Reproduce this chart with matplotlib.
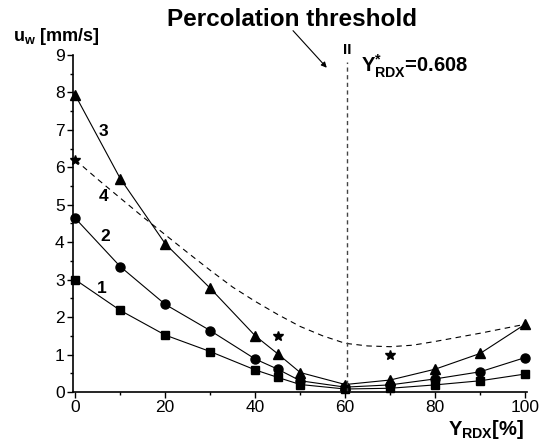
import matplotlib
matplotlib.use("Agg")
import matplotlib.pyplot as plt
from matplotlib.ticker import MultipleLocator

plt.rcParams['font.family'] = ['Liberation Sans', 'DejaVu Sans']
plt.rcParams['mathtext.fontset'] = 'custom'
plt.rcParams['mathtext.rm'] = 'Liberation Sans'
plt.rcParams['mathtext.bf'] = 'Liberation Sans:bold'
plt.rcParams['mathtext.it'] = 'Liberation Sans:italic'

# data
y_rdx = [0, 10, 20, 30, 40, 45, 50, 60, 70, 80, 90, 100]
u_1 = [3.0, 2.18, 1.52, 1.08, 0.59, 0.39, 0.2, 0.08, 0.1, 0.19, 0.3, 0.48]
u_2 = [4.64, 3.35, 2.34, 1.64, 0.88, 0.61, 0.3, 0.13, 0.19, 0.35, 0.54, 0.92]
u_3 = [7.93, 5.7, 3.96, 2.77, 1.5, 1.02, 0.52, 0.2, 0.32, 0.61, 1.03, 1.81]
star_x = [0, 45, 70]
star_u = [6.2, 1.5, 1.0]
fit_x = [0, 5, 10, 15, 20, 25, 30, 35, 40, 45, 50, 55, 60, 65, 70, 75, 80, 85, 90, 95, 100]
fit_u = [6.2, 5.68, 5.18, 4.68, 4.2, 3.72, 3.25, 2.8, 2.42, 2.07, 1.75, 1.5, 1.3, 1.23,
         1.21, 1.25, 1.35, 1.46, 1.57, 1.69, 1.81]
y_crit = 60.5

fig = plt.figure(figsize=(5.48, 4.48), dpi=100)
ax = fig.add_axes([73/548, 1-392/448, 454/548, 337/448])

ax.plot(y_rdx, u_1, '-', color='black', lw=0.8, marker='s', ms=5.5, clip_on=False)
ax.plot(y_rdx, u_2, '-', color='black', lw=0.8, marker='o', ms=6.5, clip_on=False)
ax.plot(y_rdx, u_3, '-', color='black', lw=0.8, marker='^', ms=7.5, clip_on=False)
ax.plot(fit_x, fit_u, color='black', lw=0.8, ls=(0, (5, 4)), clip_on=False)
ax.plot(star_x, star_u, ls='none', color='black', marker='*', ms=7, clip_on=False)

ax.plot([y_crit, y_crit], [0, 8.8], color='#444444', lw=1, ls=(0, (3, 2.5)), clip_on=False)
ax.text(y_crit, 8.95, 'II', fontsize=11, fontweight='bold', ha='center', va='bottom')

ax.set_xlim(-0.5, 100.4)
ax.set_ylim(0, 9)
ax.xaxis.set_major_locator(MultipleLocator(20))
ax.xaxis.set_minor_locator(MultipleLocator(10))
ax.yaxis.set_major_locator(MultipleLocator(1))
ax.yaxis.set_minor_locator(MultipleLocator(0.5))
ax.tick_params(which='major', direction='out', length=4, width=1, labelsize=12.5, pad=2)
ax.tick_params(which='minor', direction='out', length=2.5, width=1)
for s in ['top', 'right']:
    ax.spines[s].set_visible(False)
for s in ['left', 'bottom']:
    ax.spines[s].set_linewidth(1.2)

# curve numbers
for x, y, t in [(6.3, 6.96, '3'), (6.3, 5.22, '4'), (6.7, 4.15, '2'), (5.9, 2.77, '1')]:
    ax.text(x, y, t, fontsize=12.5, fontweight='bold', ha='center', va='center')

ax.annotate('', xy=(55.9, 8.66), xytext=(48.4, 9.65), xycoords='data',
            arrowprops=dict(arrowstyle='-|>', color='black', lw=0.8,
                            mutation_scale=8, shrinkA=0, shrinkB=0),
            annotation_clip=False)

fig.text(292.5/548, 1-26/448, 'Percolation threshold', fontsize=17.5,
         fontweight='bold', ha='center', va='baseline')
fig.text(13/548, 1-41/448, r'$\mathbf{u_{w}}$' + ' [mm/s]', fontsize=13,
         fontweight='bold', ha='left', va='baseline')
fig.text(361/548, 1-72/448, r'$\mathbf{Y^{*}_{RDX}}$' + '=0.608', fontsize=14.5,
         fontweight='bold', ha='left', va='baseline')
fig.text(448/548, 1-435/448, r'$\mathbf{Y_{RDX}}$' + '[%]', fontsize=14.5,
         fontweight='bold', ha='left', va='baseline')

fig.savefig('out.png', dpi=100)
